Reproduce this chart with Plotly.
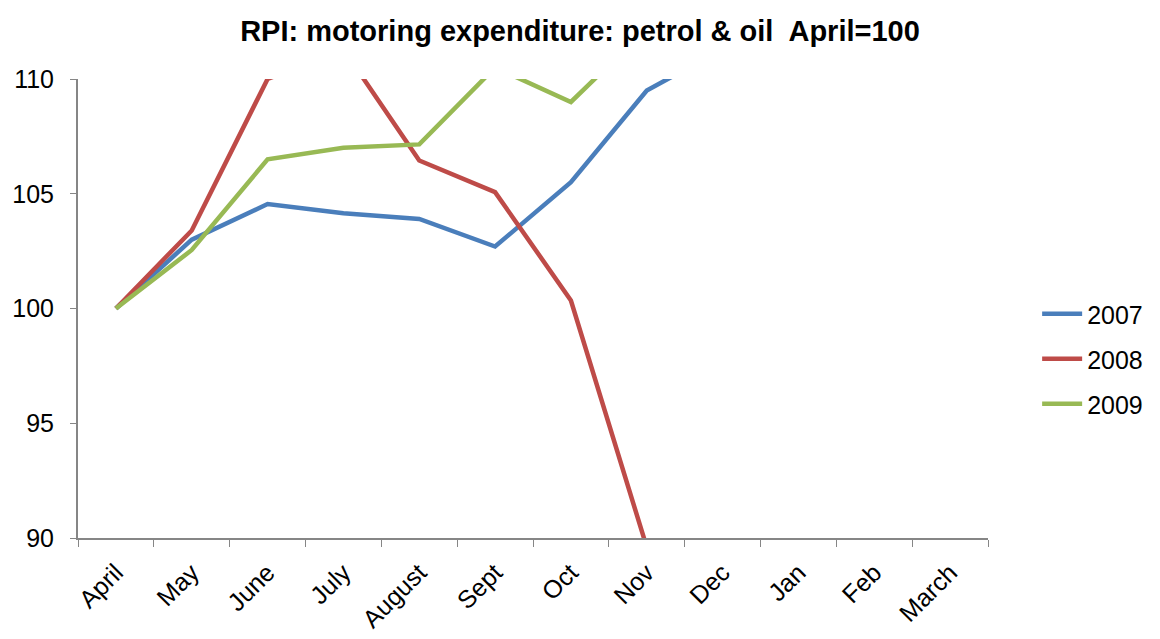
import plotly.graph_objects as go

months = ["April", "May", "June", "July", "August", "Sept", "Oct", "Nov", "Dec", "Jan", "Feb", "March"]
series_names = ["2007", "2008", "2009"]
v2007 = [100.0, 103.0, 104.55, 104.15, 103.9, 102.7, 105.5, 109.5, 111.3]
v2008 = [100.0, 103.4, 110.0, 111.3, 106.45, 105.07, 100.35, 89.6]
v2009 = [100.0, 102.55, 106.5, 107.0, 107.15, 110.5, 109.0, 112.2]
colors = ["#4A7EBB", "#BE4B48", "#98B954"]

FONT = "Liberation Sans, Arial, sans-serif"
fig = go.Figure()
legends = ["legend", "legend2", "legend3"]
for name, vals, col, lg in zip(series_names, [v2007, v2008, v2009], colors, legends):
    fig.add_trace(go.Scatter(
        x=months[:len(vals)], y=vals, name=name, mode="lines",
        line=dict(color=col, width=4.5), legend=lg, showlegend=True,
    ))

leg_common = dict(x=1.054, xanchor="left", yanchor="middle", bgcolor="rgba(0,0,0,0)",
                  font=dict(family=FONT, size=25, color="#000"), itemwidth=40)
fig.update_layout(
    width=1160, height=639, showlegend=True,
    margin=dict(l=78, r=167, t=79, b=101),
    paper_bgcolor="white", plot_bgcolor="white",
    title=dict(text="<b>RPI: motoring expenditure: petrol &amp; oil  April=100</b>",
               x=0.5, xref="container", xanchor="center", y=1 - 31 / 639, yanchor="middle",
               font=dict(family=FONT, size=29, color="#000")),
    legend=dict(y=(538 - 314) / 459, **leg_common),
    legend2=dict(y=(538 - 359) / 459, **leg_common),
    legend3=dict(y=(538 - 404) / 459, **leg_common),
    xaxis=dict(type="category", categoryorder="array", categoryarray=months,
               tickvals=months, ticktext=months, automargin=False,
               range=[-0.5, 11.5], tickson="boundaries", ticks="outside", ticklen=7,
               tickcolor="#868686", showline=True, linecolor="#868686", linewidth=2,
               showgrid=False, tickangle=-45, zeroline=False, ticklabelstandoff=8,
               tickfont=dict(family=FONT, size=25, color="#000")),
    yaxis=dict(range=[90, 110], dtick=5, tick0=90, ticks="outside", ticklen=6,
               tickcolor="#868686", showline=True, linecolor="#868686", linewidth=2,
               showgrid=False, zeroline=False, ticklabelstandoff=11, automargin=False,
               tickfont=dict(family=FONT, size=25, color="#000")),
)
fig.write_html("out.html", config={"displayModeBar": False},
               post_script="document.body.style.margin='0';document.body.style.padding='0';window.dispatchEvent(new Event('resize'));")
